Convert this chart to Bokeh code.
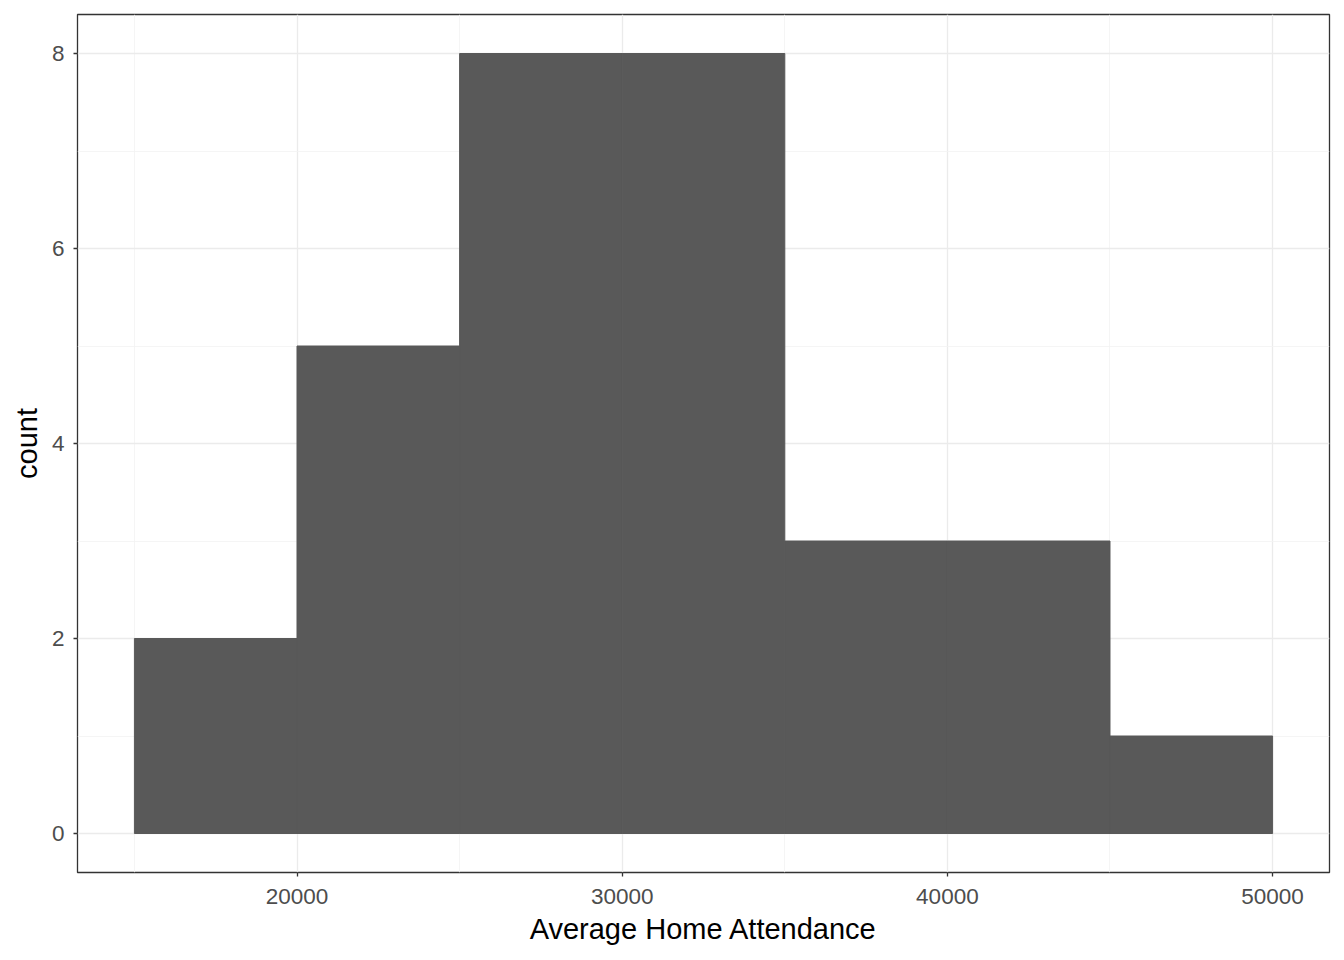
from bokeh.plotting import figure
from bokeh.models import Range1d, FixedTicker
from bokeh.embed import file_html
from bokeh.resources import INLINE

bin_left = [15000, 20000, 25000, 30000, 35000, 40000, 45000]
bin_right = [20000, 25000, 30000, 35000, 40000, 45000, 50000]
counts = [2, 5, 8, 8, 3, 3, 1]

x_ticks = [20000, 30000, 40000, 50000]
x_minor = [15000, 25000, 35000, 45000]
y_ticks = [0, 2, 4, 6, 8]
y_minor = [1, 3, 5, 7]

p = figure(width=1344, height=960, output_backend="svg", toolbar_location=None,
           x_range=Range1d(13250, 51750), y_range=Range1d(-0.4, 8.4),
           min_border_left=77, min_border_right=15, min_border_top=14, min_border_bottom=88)

p.quad(left=bin_left, right=bin_right, bottom=0, top=counts,
       fill_color="#595959", line_color="#595959", line_width=1)

p.outline_line_color="#333333"
p.outline_line_width=1.3
p.background_fill_color="white"
p.border_fill_color="white"

for ax in (p.xaxis, p.yaxis):
    ax.axis_line_color=None
    ax.major_tick_line_color="#333333"
    ax.major_tick_line_width=1.3
    ax.major_tick_out=4
    ax.major_tick_in=0
    ax.minor_tick_line_color=None
    ax.major_label_text_color="#4D4D4D"
    ax.major_label_text_font="Liberation Sans"
    ax.major_label_text_font_size="22.5px"
    ax.axis_label_text_font="Liberation Sans"
    ax.axis_label_text_font_size="29px"
    ax.axis_label_text_font_style="normal"
    ax.axis_label_text_color="black"

p.xaxis.ticker = FixedTicker(ticks=x_ticks, minor_ticks=x_minor)
p.yaxis.ticker = FixedTicker(ticks=y_ticks, minor_ticks=y_minor)
p.xaxis.axis_label = "Average Home Attendance"
p.yaxis.axis_label = "count"
p.xaxis.major_label_standoff = 12
p.yaxis.major_label_standoff = 9
p.xaxis.axis_label_standoff = 6
p.yaxis.axis_label_standoff = 6

p.xgrid.grid_line_color="#EBEBEB"
p.ygrid.grid_line_color="#EBEBEB"
p.xgrid.grid_line_width=1.3
p.ygrid.grid_line_width=1.3
p.xgrid.minor_grid_line_color="#F3F3F3"
p.ygrid.minor_grid_line_color="#F3F3F3"
p.xgrid.minor_grid_line_width=0.8
p.ygrid.minor_grid_line_width=0.8

open("out.html", "w").write(file_html(p, INLINE))
